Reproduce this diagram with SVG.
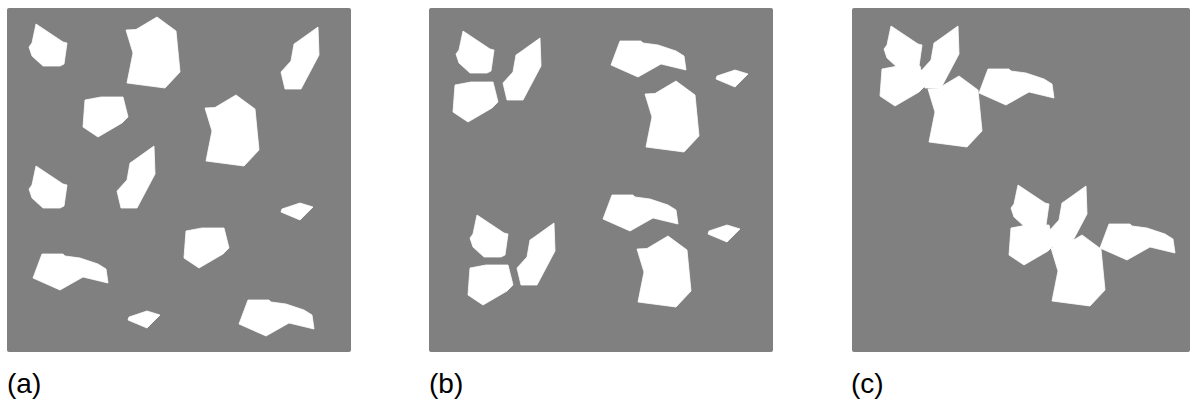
<svg xmlns="http://www.w3.org/2000/svg" xmlns:xlink="http://www.w3.org/1999/xlink" width="1193" height="403" viewBox="0 0 1193 403">
<style>
.panel{fill:#808080}
.shape{fill:#ffffff;stroke:#ffffff;stroke-width:0.8;stroke-linejoin:round}
.label{font-family:"Liberation Sans","Open Sans",sans-serif;font-size:28px;fill:#000000}
</style>
<defs>
<polygon id="P" class="shape" points="36,24 63,42 67,43 64,64 60,66 43,66 32,56 29,47 32,43"/>
<polygon id="H" class="shape" points="126,30 136,29.5 157,17 176,31 180,72 165,88 127,83 133,53"/>
<polygon id="Q" class="shape" points="85,100 101,97 123,97 128,117 122,123 98,137 83,127"/>
<polygon id="T" class="shape" points="318,27 319,55 301,89 285,89 281,72 291,61 294,44 297,42"/>
<polygon id="L" class="shape" points="42,254 63,254 65,256 80,258 98,264 106,269 108,283 83,277 60,290 33,278"/>
<polygon id="S" class="shape" points="129,317 147,311 160,315 147,328 128,320"/>
</defs>
<g id="panel-a">
<rect class="panel" x="7" y="8" width="344" height="344" rx="2"/>
<use xlink:href="#P"/>
<use xlink:href="#H"/>
<use xlink:href="#Q"/>
<use xlink:href="#T"/>
<use xlink:href="#H" x="79" y="78"/>
<use xlink:href="#P" x="0" y="142"/>
<use xlink:href="#T" x="-164" y="119"/>
<use xlink:href="#L"/>
<use xlink:href="#S"/>
<use xlink:href="#S" x="153" y="-108"/>
<use xlink:href="#Q" x="101" y="131"/>
<use xlink:href="#L" x="206" y="46"/>
<text class="label" x="7" y="393">(a)</text>
</g>
<g id="panel-b">
<rect class="panel" x="429" y="8" width="344" height="344" rx="2"/>
<use xlink:href="#P" x="427" y="7"/>
<use xlink:href="#Q" x="370" y="-15"/>
<use xlink:href="#T" x="222" y="11"/>
<use xlink:href="#L" x="578" y="-213"/>
<use xlink:href="#S" x="588" y="-241"/>
<use xlink:href="#H" x="519" y="64"/>
<use xlink:href="#P" x="441" y="191"/>
<use xlink:href="#Q" x="385" y="168"/>
<use xlink:href="#T" x="236" y="196"/>
<use xlink:href="#L" x="570" y="-59"/>
<use xlink:href="#S" x="580" y="-86"/>
<use xlink:href="#H" x="511" y="219"/>
<text class="label" x="429" y="393">(b)</text>
</g>
<g id="panel-c">
<rect class="panel" x="852" y="8" width="338" height="344" rx="2"/>
<use xlink:href="#P" x="855" y="2"/>
<use xlink:href="#Q" x="797" y="-31"/>
<use xlink:href="#T" x="640" y="-1"/>
<use xlink:href="#H" x="802" y="59"/>
<use xlink:href="#L" x="946" y="-185"/>
<use xlink:href="#P" x="982" y="161"/>
<use xlink:href="#Q" x="926" y="128"/>
<use xlink:href="#T" x="768" y="159"/>
<use xlink:href="#H" x="925" y="218"/>
<use xlink:href="#L" x="1067" y="-30"/>
<text class="label" x="851" y="393">(c)</text>
</g>
</svg>
